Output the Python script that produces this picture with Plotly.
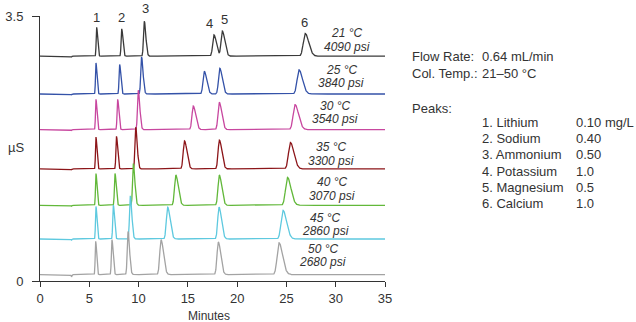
import numpy as np
import plotly.graph_objects as go

# ---------------- data ----------------
temps = ["21 °C", "25 °C", "30 °C", "35 °C", "40 °C", "45 °C", "50 °C"]
pressures = ["4090 psi", "3840 psi", "3540 psi", "3300 psi", "3070 psi", "2860 psi", "2680 psi"]
colors = ["#3a3a3a", "#3452a8", "#c8479f", "#8c1519", "#62b83a", "#5ec9df", "#a3a3a3"]
offsets = [2.97, 2.47, 2.00, 1.48, 1.00, 0.555, 0.085]

ret_21 = [5.75, 8.29, 10.58, 17.65, 18.50, 26.90]
ret_25 = [5.68, 8.08, 10.30, 16.67, 18.24, 26.27]
ret_30 = [5.68, 7.88, 9.97, 15.55, 18.19, 25.87]
ret_35 = [5.68, 7.76, 9.71, 14.66, 18.20, 25.40]
ret_40 = [5.68, 7.61, 9.47, 13.78, 18.19, 25.10]
ret_45 = [5.68, 7.44, 9.16, 12.95, 18.16, 24.65]
ret_50 = [5.65, 7.30, 8.93, 12.28, 18.09, 24.25]

ht_21 = [0.38, 0.36, 0.46, 0.28, 0.33, 0.30]
ht_25 = [0.41, 0.39, 0.49, 0.30, 0.34, 0.32]
ht_30 = [0.40, 0.40, 0.52, 0.31, 0.36, 0.33]
ht_35 = [0.42, 0.43, 0.55, 0.37, 0.38, 0.35]
ht_40 = [0.42, 0.42, 0.55, 0.40, 0.40, 0.37]
ht_45 = [0.43, 0.45, 0.57, 0.42, 0.42, 0.38]
ht_50 = [0.44, 0.46, 0.57, 0.46, 0.43, 0.42]

peak_sigma = [0.05, 0.06, 0.08, 0.13, 0.13, 0.19]
dip_time = 3.2
dip_depth = [-0.012, -0.012, -0.012, -0.012, -0.012, -0.015, -0.03]

peak_numbers = ["1", "2", "3", "4", "5", "6"]
peak_names = ["1. Lithium", "2. Sodium", "3. Ammonium", "4. Potassium", "5. Magnesium", "6. Calcium"]
peak_conc = ["0.10 mg/L", "0.40", "0.50", "1.0", "0.5", "1.0"]

retentions = [ret_21, ret_25, ret_30, ret_35, ret_40, ret_45, ret_50]
heights = [ht_21, ht_25, ht_30, ht_35, ht_40, ht_45, ht_50]

# ---------------- figure ----------------
FONT = "Liberation Sans, Arial, sans-serif"
TXT = "#333333"
x = np.linspace(0, 35, 3501)


def chrom(rts, hts, base, dip):
    y = np.full_like(x, base)
    for t, h, s in zip(rts, hts, peak_sigma):
        sig = np.where(x < t, s, s * 1.9)
        y += h * np.exp(-0.5 * ((x - t) / sig) ** 2)
    y += dip * np.exp(-0.5 * ((x - dip_time) / 0.04) ** 2)
    return y


fig = go.Figure()
for i in range(len(temps)):
    fig.add_trace(go.Scatter(
        x=x, y=chrom(retentions[i], heights[i], offsets[i], dip_depth[i]),
        mode="lines", line=dict(color=colors[i], width=1.3),
        showlegend=False, hoverinfo="skip"))

ann = []


def px2paper(px, py):
    # figure pixel -> paper coords (plot area spans x 40..385, y 16..281)
    return (px - 40) / 345, (281 - py) / 265


# peak numbers above top trace
num_pos = [(96.5, 17), (121.5, 17), (145, 8), (209, 23), (224, 19), (304.5, 22)]
for lab, (px, py) in zip(peak_numbers, num_pos):
    xx, yy = px2paper(px, py)
    ann.append(dict(x=xx, y=yy, xref="paper", yref="paper", text=lab, showarrow=False,
                    font=dict(family=FONT, size=13, color=TXT), xanchor="center", yanchor="middle"))

# temperature / pressure labels
lab_x = [346.5, 341, 335, 331, 331.5, 325, 322.5]
lab_y1 = [33, 70, 106, 147, 182.3, 218.3, 249]
lab_y2 = [47, 82.7, 119, 160.7, 196, 231, 262.3]
for i in range(len(temps)):
    for txt, py in ((temps[i], lab_y1[i]), (pressures[i], lab_y2[i])):
        xx, yy = px2paper(lab_x[i], py)
        ann.append(dict(x=xx, y=yy, xref="paper", yref="paper",
                        text="<i>" + txt + "</i>", showarrow=False,
                        font=dict(family=FONT, size=12, color=TXT),
                        xanchor="center", yanchor="middle"))

# y-axis unit label and x-axis title
xx, yy = px2paper(16, 147)
ann.append(dict(x=xx, y=yy, xref="paper", yref="paper",
                text="µS", showarrow=False, font=dict(family=FONT, size=13, color=TXT),
                xanchor="center", yanchor="middle"))
xx, yy = px2paper(209, 316)
ann.append(dict(x=xx, y=yy, xref="paper", yref="paper",
                text="Minutes", showarrow=False, font=dict(family=FONT, size=12, color=TXT),
                xanchor="center", yanchor="middle"))


def add_text(px, py, txt):
    xx, yy = px2paper(px, py)
    ann.append(dict(x=xx, y=yy, xref="paper", yref="paper", text=txt, showarrow=False,
                    font=dict(family=FONT, size=13, color=TXT), xanchor="left", yanchor="middle"))


add_text(410, 57, "Flow Rate:")
add_text(480, 57, "0.64 mL/min")
add_text(410, 73.5, "Col. Temp.:")
add_text(480, 73.5, "21–50 °C")
add_text(410, 108, "Peaks:")
for k, (nm, cc) in enumerate(zip(peak_names, peak_conc)):
    yy = 122.7 + k * 16.1
    add_text(480, yy, nm)
    add_text(574, yy, cc)

fig.update_layout(
    width=636, height=322,
    margin=dict(l=40, r=251, t=16, b=41),
    paper_bgcolor="white", plot_bgcolor="white",
    annotations=ann,
    font=dict(family=FONT, size=13, color=TXT),
    xaxis=dict(range=[0, 35], tickvals=[0, 5, 10, 15, 20, 25, 30, 35],
               showline=True, linecolor="#333333", linewidth=1,
               ticks="outside", ticklen=5, tickcolor="#333333",
               showgrid=False, zeroline=False, automargin=False,
               tickfont=dict(family=FONT, size=13, color=TXT)),
    yaxis=dict(range=[0, 3.5], tickvals=[0, 3.5], ticktext=["0", "3.5"],
               showline=True, linecolor="#333333", linewidth=1,
               ticks="outside", ticklen=7, tickcolor="#333333",
               showgrid=False, zeroline=False, automargin=False,
               ticklabelstandoff=6,
               tickfont=dict(family=FONT, size=13, color=TXT)),
)

# remove the default 8px page margin so the 636x322 figure fills the window exactly
fig.write_html("out.html", config={"displayModeBar": False},
               post_script="document.body.style.margin='0px';")
